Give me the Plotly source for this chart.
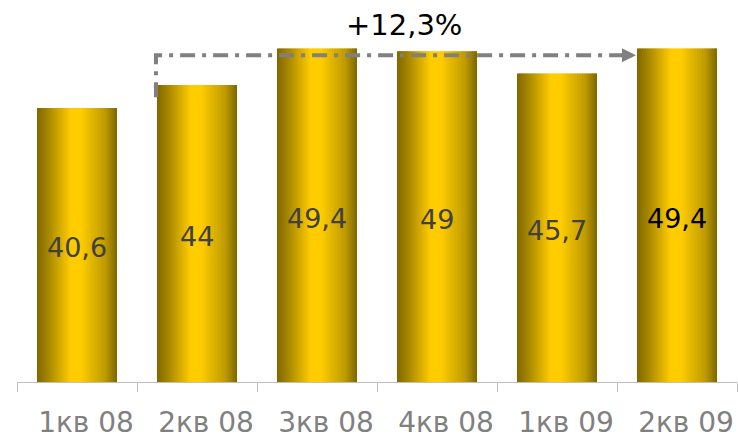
import plotly.graph_objects as go

categories = ["1кв 08", "2кв 08", "3кв 08", "4кв 08", "1кв 09", "2кв 09"]
values = [40.6, 44, 49.4, 49, 45.7, 49.4]
labels = ["40,6", "44", "49,4", "49", "45,7", "49,4"]
label_colors = ["#404040", "#404040", "#404040", "#404040", "#404040", "#000000"]
growth_text = "+12,3%"
growth_from, growth_to = 1, 5

FONT = "DejaVu Sans"
bar_w = 0.667
n_slices = 48
stops = [(0.0, (128, 104, 0)), (0.12, (160, 130, 0)), (0.42, (255, 204, 0)),
         (0.55, (255, 204, 0)), (0.85, (190, 155, 0)), (1.0, (125, 103, 0))]


def grad(t):
    for (t0, c0), (t1, c1) in zip(stops[:-1], stops[1:]):
        if t0 <= t <= t1:
            f = (t - t0) / (t1 - t0) if t1 > t0 else 0
            return "rgb(%d,%d,%d)" % tuple(round(a + (b - a) * f) for a, b in zip(c0, c1))
    return "rgb(%d,%d,%d)" % stops[-1][1]


fig = go.Figure()
sw = bar_w / n_slices
for i in range(n_slices):
    t = (i + 0.5) / n_slices
    w = sw * 1.6 if i < n_slices - 1 else sw
    fig.add_trace(go.Bar(
        x=categories, y=values, width=w, offset=-bar_w / 2 + i * sw,
        marker=dict(color=grad(t), line=dict(width=0)),
        showlegend=False, hoverinfo="skip"))

for cat, v, lab, col in zip(categories, values, labels, label_colors):
    fig.add_annotation(x=cat, y=v / 2, text=lab, showarrow=False, yshift=-3,
                       font=dict(family=FONT, size=27, color=col))

# growth arrow
x0 = growth_from - 0.342
x1 = growth_to - 0.342
y_start = values[growth_from] - 1.8
y_line = values[growth_to] - 1.0
fig.add_shape(type="path",
              path=f"M {x0},{y_start} L {x0},{y_line} L {x1 - 0.1},{y_line}",
              line=dict(color="#808080", width=4, dash="15px,7px,4px,7px"))
fig.add_annotation(x=x1, y=y_line, ax=x1 - 0.1, ay=y_line, xref="x", yref="y",
                   axref="x", ayref="y", showarrow=True, arrowhead=2,
                   arrowsize=0.7, arrowwidth=4, arrowcolor="#808080", text="")
fig.add_annotation(x=(x0 + x1) / 2 + 0.07, y=values[growth_to] + 3.5, xref="x", yref="y",
                   text=growth_text, showarrow=False,
                   font=dict(family=FONT, size=29, color="#000000"))

fig.update_layout(
    width=738, height=440, margin=dict(l=17, r=1, t=4, b=58, autoexpand=False),
    paper_bgcolor="white", plot_bgcolor="white", barmode="overlay",
    xaxis=dict(type="category", range=[-0.5, 5.5], showline=True, linecolor="#BFBFBF",
               linewidth=1, ticks="outside", tickson="boundaries", ticklen=9,
               tickcolor="#BFBFBF", showgrid=False, ticklabelshift=9,
               ticklabelstandoff=15, automargin=False,
               tickfont=dict(family=FONT, size=28, color="#808080")),
    yaxis=dict(range=[0, 56], visible=False, showgrid=False, zeroline=False),
)

fig.write_html("out.html")
